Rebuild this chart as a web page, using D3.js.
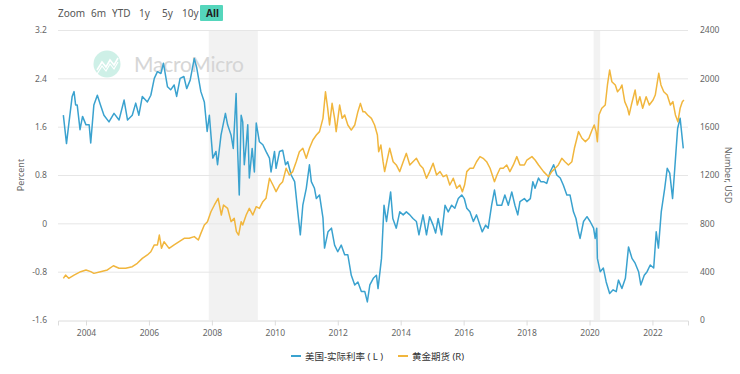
<!DOCTYPE html>
<html>
<head>
<meta charset="utf-8">
<script src="https://cdn.jsdelivr.net/npm/d3@7"></script>
<style>
  body { margin: 0; background: #fff; }
  text { font-family: "Noto Sans", "Noto Sans CJK SC", sans-serif; }
</style>
</head>
<body>
<svg id="chart" width="740" height="374"></svg>
<script>
// US real rate (percent, left axis), [decimal year, value]
const realRate = [
  [2003.28,1.79],[2003.38,1.32],[2003.45,1.63],[2003.56,2.10],[2003.62,2.18],[2003.67,1.96],[2003.72,1.96],
  [2003.81,1.55],[2003.89,1.77],[2004.00,1.63],[2004.10,1.63],[2004.15,1.33],[2004.25,1.96],[2004.36,2.12],
  [2004.46,1.96],[2004.57,1.79],[2004.73,1.68],[2004.89,1.82],[2005.05,1.71],[2005.21,2.04],[2005.32,1.71],
  [2005.47,1.79],[2005.58,1.99],[2005.68,1.79],[2005.79,2.10],[2005.95,2.01],[2006.06,2.12],[2006.17,2.40],
  [2006.27,2.51],[2006.38,2.48],[2006.46,2.65],[2006.59,2.26],[2006.69,2.21],[2006.80,2.29],[2006.88,2.10],
  [2006.99,2.40],[2007.11,2.43],[2007.20,2.23],[2007.31,2.37],[2007.44,2.73],[2007.52,2.57],[2007.65,2.18],
  [2007.76,2.01],[2007.85,1.52],[2007.92,1.79],[2008.03,1.08],[2008.13,1.19],[2008.18,0.97],[2008.29,1.46],
  [2008.43,1.82],[2008.50,1.63],[2008.61,1.46],[2008.68,1.24],[2008.77,2.15],[2008.82,1.19],[2008.87,0.47],
  [2008.93,1.79],[2008.98,1.68],[2009.03,0.97],[2009.09,1.30],[2009.14,1.63],[2009.19,0.75],[2009.28,1.24],
  [2009.35,0.85],[2009.41,1.66],[2009.51,1.35],[2009.62,1.30],[2009.72,1.19],[2009.83,1.08],[2009.88,0.85],
  [2009.99,1.19],[2010.04,0.91],[2010.15,1.19],[2010.25,1.21],[2010.34,0.97],[2010.41,1.02],[2010.52,0.80],
  [2010.63,0.69],[2010.73,0.19],[2010.81,-0.19],[2010.89,0.30],[2011.00,0.58],[2011.10,0.97],[2011.16,0.69],
  [2011.26,0.58],[2011.32,0.41],[2011.42,0.47],[2011.53,0.09],[2011.58,-0.41],[2011.69,-0.14],[2011.80,-0.08],
  [2011.90,-0.36],[2012.00,-0.47],[2012.11,-0.36],[2012.22,-0.52],[2012.32,-0.52],[2012.43,-0.86],[2012.54,-1.02],
  [2012.64,-0.97],[2012.75,-1.13],[2012.86,-1.13],[2012.94,-1.30],[2013.02,-1.02],[2013.13,-0.91],[2013.23,-0.86],
  [2013.28,-1.08],[2013.39,-0.58],[2013.47,0.30],[2013.55,0.03],[2013.68,0.52],[2013.75,0.08],[2013.86,-0.08],
  [2013.97,0.19],[2014.08,0.14],[2014.18,0.19],[2014.29,0.14],[2014.39,0.08],[2014.50,0.03],[2014.58,-0.19],
  [2014.71,0.14],[2014.82,-0.19],[2014.92,0.11],[2015.03,-0.03],[2015.11,-0.16],[2015.19,0.08],[2015.30,-0.19],
  [2015.41,0.30],[2015.51,0.19],[2015.62,0.30],[2015.72,0.25],[2015.83,0.41],[2015.94,0.47],[2016.02,0.41],
  [2016.10,0.25],[2016.20,0.19],[2016.31,0.03],[2016.41,0.14],[2016.52,-0.03],[2016.59,-0.14],[2016.70,-0.03],
  [2016.78,-0.08],[2016.89,0.30],[2016.98,0.55],[2017.06,0.30],[2017.21,0.30],[2017.31,0.47],[2017.42,0.30],
  [2017.53,0.52],[2017.63,0.30],[2017.72,0.14],[2017.79,0.36],[2017.93,0.41],[2018.01,0.36],[2018.12,0.41],
  [2018.20,0.69],[2018.27,0.58],[2018.38,0.75],[2018.45,0.69],[2018.54,0.69],[2018.64,0.66],[2018.75,0.85],
  [2018.86,0.97],[2018.96,0.80],[2019.07,0.75],[2019.17,0.63],[2019.28,0.47],[2019.38,0.47],[2019.49,0.19],
  [2019.57,0.08],[2019.65,-0.14],[2019.70,-0.25],[2019.81,0.03],[2019.92,0.11],[2020.02,0.03],[2020.13,-0.08],
  [2020.18,-0.25],[2020.23,-0.08],[2020.25,-0.58],[2020.34,-0.80],[2020.44,-0.74],[2020.53,-0.97],[2020.64,-1.16],
  [2020.75,-1.10],[2020.85,-1.13],[2020.92,-0.94],[2021.03,-1.08],[2021.14,-0.91],[2021.24,-0.39],[2021.35,-0.58],
  [2021.45,-0.66],[2021.56,-0.80],[2021.63,-1.02],[2021.74,-0.86],[2021.83,-0.80],[2021.93,-0.69],[2022.04,-0.74],
  [2022.12,-0.14],[2022.19,-0.41],[2022.28,0.19],[2022.39,0.58],[2022.47,0.91],[2022.55,0.83],[2022.64,0.41],
  [2022.71,0.91],[2022.80,1.57],[2022.88,1.74],[2022.98,1.24]
];

// gold futures (USD, right axis), [decimal year, value]
const goldPrice = [
  [2003.28,345],[2003.35,372],[2003.45,345],[2003.62,372],[2003.83,400],[2004.00,414],[2004.15,400],
  [2004.25,386],[2004.46,400],[2004.68,414],[2004.87,449],[2005.05,428],[2005.26,428],[2005.47,441],
  [2005.63,469],[2005.79,510],[2005.95,538],[2006.06,565],[2006.17,621],[2006.27,621],[2006.33,703],
  [2006.40,593],[2006.48,648],[2006.64,593],[2006.80,621],[2006.96,648],[2007.12,676],[2007.28,676],
  [2007.44,690],[2007.57,662],[2007.65,717],[2007.76,786],[2007.86,814],[2007.97,896],[2008.08,952],
  [2008.20,1007],[2008.30,869],[2008.37,952],[2008.50,924],[2008.61,814],[2008.71,841],[2008.78,731],
  [2008.85,703],[2008.93,814],[2008.98,786],[2009.09,869],[2009.19,924],[2009.30,869],[2009.41,938],
  [2009.51,924],[2009.62,979],[2009.72,1007],[2009.83,1173],[2009.94,1117],[2010.04,1062],[2010.15,1117],
  [2010.25,1145],[2010.36,1256],[2010.46,1200],[2010.57,1228],[2010.68,1310],[2010.78,1393],[2010.89,1421],
  [2011.00,1338],[2011.10,1421],[2011.21,1490],[2011.32,1531],[2011.42,1559],[2011.53,1669],[2011.61,1889],
  [2011.68,1752],[2011.74,1614],[2011.82,1793],[2011.90,1669],[2011.95,1559],[2012.06,1779],[2012.14,1669],
  [2012.22,1697],[2012.32,1614],[2012.43,1572],[2012.54,1614],[2012.64,1724],[2012.72,1793],[2012.80,1724],
  [2012.86,1724],[2012.95,1697],[2013.07,1669],[2013.17,1614],[2013.26,1531],[2013.30,1393],[2013.37,1448],
  [2013.44,1310],[2013.49,1228],[2013.58,1338],[2013.65,1421],[2013.76,1310],[2013.86,1283],[2013.97,1228],
  [2014.08,1310],[2014.18,1379],[2014.29,1283],[2014.39,1310],[2014.50,1338],[2014.61,1283],[2014.71,1256],
  [2014.82,1173],[2014.92,1228],[2015.03,1297],[2015.14,1200],[2015.25,1228],[2015.35,1186],[2015.46,1200],
  [2015.56,1117],[2015.67,1173],[2015.78,1090],[2015.88,1117],[2015.96,1062],[2016.03,1117],[2016.10,1228],
  [2016.20,1256],[2016.31,1256],[2016.41,1310],[2016.52,1352],[2016.62,1338],[2016.73,1310],[2016.84,1256],
  [2016.98,1145],[2017.06,1200],[2017.16,1256],[2017.26,1256],[2017.37,1283],[2017.47,1228],[2017.58,1283],
  [2017.69,1352],[2017.79,1283],[2017.93,1283],[2018.01,1324],[2018.17,1352],[2018.27,1324],[2018.38,1283],
  [2018.54,1228],[2018.70,1186],[2018.80,1228],[2018.91,1256],[2019.01,1283],[2019.12,1338],[2019.22,1310],
  [2019.33,1283],[2019.44,1310],[2019.52,1421],[2019.60,1504],[2019.65,1559],[2019.76,1504],[2019.87,1476],
  [2019.98,1504],[2020.08,1572],[2020.15,1614],[2020.21,1559],[2020.25,1476],[2020.30,1697],[2020.39,1752],
  [2020.50,1779],[2020.57,1945],[2020.64,2069],[2020.71,1972],[2020.82,1945],[2020.89,1889],[2020.98,1917],
  [2021.03,1945],[2021.12,1807],[2021.21,1752],[2021.26,1697],[2021.33,1779],[2021.45,1903],[2021.52,1779],
  [2021.60,1848],[2021.69,1752],[2021.80,1848],[2021.90,1779],[2022.02,1821],[2022.09,1862],[2022.20,2042],
  [2022.27,1945],[2022.36,1889],[2022.47,1862],[2022.57,1779],[2022.65,1807],[2022.73,1697],[2022.81,1641],
  [2022.88,1752],[2022.95,1807],[2023.00,1821]
];

// recession bands [start, end]
const recessions = [[2007.90, 2009.46], [2020.13, 2020.34]];

const yearTicks = [2004, 2006, 2008, 2010, 2012, 2014, 2016, 2018, 2020, 2022];
const leftTicks = [-1.6, -0.8, 0, 0.8, 1.6, 2.4, 3.2];
const rightTicks = [0, 400, 800, 1200, 1600, 2000, 2400];
const rangeButtons = ["6m", "YTD", "1y", "5y", "10y", "All"];
const seriesNames = ["美国-实际利率 ( L )", "黄金期货 (R)"];
const seriesColors = ["#3aa2cf", "#f1b63d"];

const svg = d3.select("#chart");
const plot = {left: 58, right: 688, top: 30, bottom: 320};

const x = d3.scaleLinear().domain([2003.11, 2023.13]).range([plot.left, plot.right]);
const yL = d3.scaleLinear().domain([-1.6, 3.2]).range([plot.bottom, plot.top]);
const yR = d3.scaleLinear().domain([0, 2400]).range([plot.bottom, plot.top]);

// recession shading
svg.append("g").selectAll("rect")
  .data(recessions)
  .enter()
  .append("rect")
  .attr("x", d => x(d[0]))
  .attr("width", d => x(d[1]) - x(d[0]))
  .attr("y", plot.top)
  .attr("height", plot.bottom - plot.top)
  .attr("fill", "#f2f2f2");

// gridlines
svg.append("g").selectAll("line")
  .data(leftTicks.filter(d => d > -1.6))
  .enter()
  .append("line")
  .attr("x1", plot.left).attr("x2", plot.right)
  .attr("y1", d => yL(d) + 0.5).attr("y2", d => yL(d) + 0.5)
  .attr("stroke", "#e6e6e6")
  .attr("stroke-width", 1);

// x axis
const xAxis = svg.append("g")
  .attr("transform", `translate(0, ${plot.bottom + 0.5})`)
  .call(d3.axisBottom(x).tickValues(yearTicks).tickFormat(d3.format("d")).tickSize(5).tickPadding(4));
xAxis.select(".domain").attr("stroke", "#dcdcdc");
xAxis.selectAll(".tick line").attr("stroke", "#dcdcdc");
xAxis.selectAll("text").attr("fill", "#666").style("font-size", "8.5px");

// left axis
const lAxis = svg.append("g")
  .attr("transform", `translate(${plot.left}, 0)`)
  .call(d3.axisLeft(yL).tickValues(leftTicks).tickFormat(d => String(d)).tickSize(0).tickPadding(11));
lAxis.select(".domain").remove();
lAxis.selectAll("text").attr("fill", "#666").style("font-size", "8.5px");

// right axis
const rAxis = svg.append("g")
  .attr("transform", `translate(${plot.right}, 0)`)
  .call(d3.axisRight(yR).tickValues(rightTicks).tickFormat(d3.format("d")).tickSize(0).tickPadding(12));
rAxis.select(".domain").remove();
rAxis.selectAll("text").attr("fill", "#666").style("font-size", "8.5px");

// axis titles
svg.append("text")
  .attr("transform", "translate(24, 175) rotate(-90)")
  .attr("text-anchor", "middle")
  .attr("fill", "#666")
  .style("font-size", "9px")
  .text("Percent");
svg.append("text")
  .attr("transform", "translate(725, 175) rotate(90)")
  .attr("text-anchor", "middle")
  .attr("fill", "#666")
  .style("font-size", "9px")
  .text("Number, USD");

// watermark
const wm = svg.append("g").attr("opacity", 0.9);
wm.append("circle").attr("cx", 107).attr("cy", 64).attr("r", 13.5).attr("fill", "#c9efe5");
wm.append("path")
  .attr("d", "M97,70 L102,62 L106,67 L110,60 L114,65 L118,58")
  .attr("fill", "none").attr("stroke", "#fff").attr("stroke-width", 1.6);
wm.append("path")
  .attr("d", "M97,74 L102,66 L106,71 L110,64 L114,69 L118,62")
  .attr("fill", "none").attr("stroke", "#fff").attr("stroke-width", 1.2);
wm.append("text")
  .attr("x", 134).attr("y", 72)
  .attr("fill", "#d2d2d2")
  .attr("textLength", 110)
  .style("font-size", "21px")
  .style("font-family", "Lato, 'Noto Sans', sans-serif")
  .text("MacroMicro");

// lines
const lineL = d3.line().x(d => x(d[0])).y(d => yL(d[1]));
const lineR = d3.line().x(d => x(d[0])).y(d => yR(d[1]));

svg.append("path")
  .datum(realRate)
  .attr("d", lineL)
  .attr("fill", "none")
  .attr("stroke", seriesColors[0])
  .attr("stroke-width", 1.5)
  .attr("stroke-linejoin", "round");

svg.append("path")
  .datum(goldPrice)
  .attr("d", lineR)
  .attr("fill", "none")
  .attr("stroke", seriesColors[1])
  .attr("stroke-width", 1.5)
  .attr("stroke-linejoin", "round");

// range selector
const btnX = [91, 112, 139, 162, 182, 206];
const rs = svg.append("g");
rs.append("text").attr("x", 58).attr("y", 17).attr("fill", "#555").style("font-size", "10px").text("Zoom");
rs.append("rect").attr("x", 200).attr("y", 5).attr("width", 23).attr("height", 16).attr("rx", 1).attr("fill", "#55d6bc");
rs.selectAll(".btn")
  .data(rangeButtons)
  .enter()
  .append("text")
  .attr("class", "btn")
  .attr("x", (d, i) => btnX[i])
  .attr("y", 17)
  .attr("fill", d => d == "All" ? "#222" : "#555")
  .style("font-weight", d => d == "All" ? "bold" : "normal")
  .style("font-size", "10px")
  .text(d => d);

// legend
const legX = [291, 398];
const leg = svg.append("g").selectAll("g")
  .data(seriesNames)
  .enter()
  .append("g")
  .attr("transform", (d, i) => `translate(${legX[i]}, 356)`);
leg.append("line")
  .attr("x1", 0).attr("x2", 10)
  .attr("stroke", (d, i) => seriesColors[i])
  .attr("stroke-width", 2);
leg.append("text")
  .attr("x", 14).attr("y", 3.5)
  .attr("fill", "#333")
  .style("font-size", "9.5px")
  .text(d => d);
</script>
</body>
</html>
